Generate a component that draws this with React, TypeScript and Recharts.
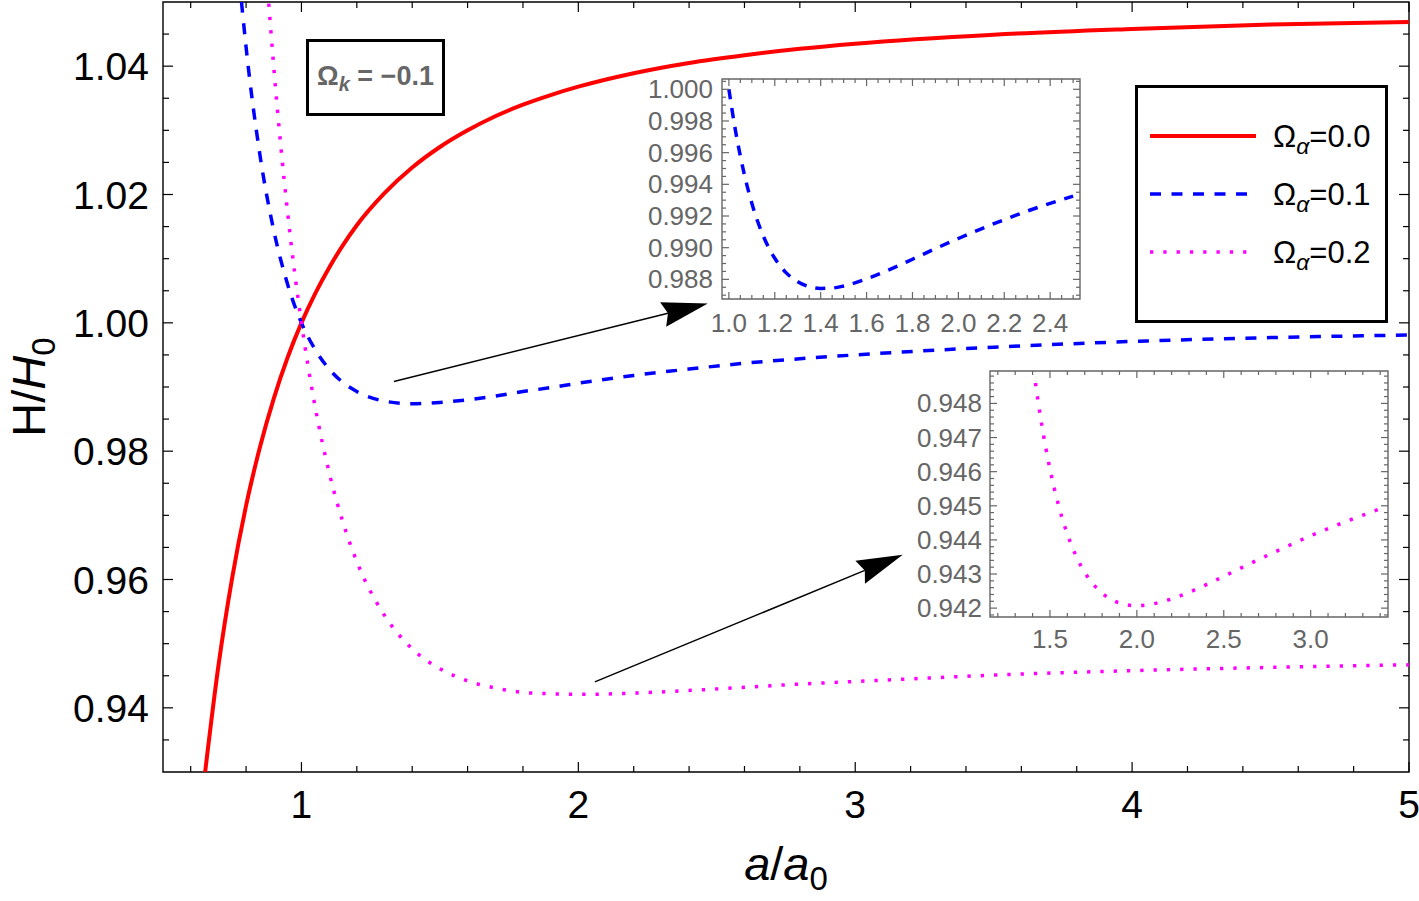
import React from "react";
import { LineChart, Line, XAxis, YAxis, ReferenceArea, ReferenceLine, Legend } from "recharts";

const FONT = "'Liberation Sans', Arial, Helvetica, sans-serif";

// main panel: a/a0 and H/H0 for the three Omega_alpha values (Omega_k = -0.1)
const A_MAIN = [0.65, 0.7, 0.75, 0.8, 0.85, 0.9, 0.95, 1.0, 1.05, 1.1, 1.15, 1.2, 1.3, 1.4, 1.5, 1.6, 1.7, 1.8, 1.9, 2.0, 2.2, 2.4, 2.6, 2.8, 3.0, 3.5, 4.0, 4.5, 5.0];
const H_ALPHA_00 = [0.9292, 0.9465, 0.9603, 0.9715, 0.9806, 0.9882, 0.9946, 1.0, 1.0046, 1.0086, 1.0121, 1.0152, 1.0202, 1.0242, 1.0274, 1.03, 1.0322, 1.034, 1.0355, 1.0368, 1.0389, 1.0405, 1.0417, 1.0427, 1.0435, 1.0449, 1.0458, 1.0465, 1.0469];
const H_ALPHA_01 = [1.1504, 1.1011, 1.0669, 1.043, 1.0262, 1.0144, 1.006, 1.0, 0.9958, 0.9928, 0.9907, 0.9893, 0.9878, 0.9874, 0.9876, 0.988, 0.9886, 0.9893, 0.9899, 0.9906, 0.9918, 0.9928, 0.9937, 0.9944, 0.995, 0.9962, 0.9971, 0.9977, 0.9981];
const H_ALPHA_02 = [1.3356, 1.2365, 1.1638, 1.11, 1.0699, 1.0399, 1.0172, 1.0, 0.9868, 0.9767, 0.9689, 0.9628, 0.9544, 0.9492, 0.9461, 0.9442, 0.9431, 0.9424, 0.9422, 0.9421, 0.9423, 0.9427, 0.9432, 0.9437, 0.9441, 0.9451, 0.9458, 0.9463, 0.9467];

// upper inset (Omega_alpha = 0.1)
const A_INSET_1 = [1.0, 1.025, 1.05, 1.075, 1.1, 1.15, 1.2, 1.25, 1.3, 1.35, 1.4, 1.45, 1.5, 1.6, 1.7, 1.8, 1.9, 2.0, 2.1, 2.2, 2.3, 2.4, 2.5];
const H_INSET_1 = [1.0, 0.9977, 0.99578, 0.99416, 0.9928, 0.99074, 0.98933, 0.98841, 0.98785, 0.98754, 0.98743, 0.98745, 0.98758, 0.98803, 0.98862, 0.98927, 0.98994, 0.99058, 0.99119, 0.99177, 0.99231, 0.9928, 0.99326];

// lower inset (Omega_alpha = 0.2)
const A_INSET_2 = [1.4165, 1.45, 1.5, 1.55, 1.6, 1.65, 1.7, 1.8, 1.9, 2.0, 2.2, 2.4, 2.6, 2.8, 3.0, 3.2, 3.4];
const H_INSET_2 = [0.9486, 0.94746, 0.94608, 0.945, 0.94417, 0.94353, 0.94305, 0.94244, 0.94215, 0.94207, 0.94227, 0.94269, 0.94318, 0.94366, 0.94412, 0.94453, 0.94491];

const MAIN_X_LABELS = [1, 2, 3, 4, 5];
const MAIN_Y_LABELS = [0.94, 0.96, 0.98, 1.0, 1.02, 1.04];
const INSET1_X_LABELS = [1.0, 1.2, 1.4, 1.6, 1.8, 2.0, 2.2, 2.4];
const INSET1_Y_LABELS = [0.988, 0.99, 0.992, 0.994, 0.996, 0.998, 1.0];
const INSET2_X_LABELS = [1.5, 2.0, 2.5, 3.0];
const INSET2_Y_LABELS = [0.942, 0.943, 0.944, 0.945, 0.946, 0.947, 0.948];

const LEGEND_VALUES = ["0.0", "0.1", "0.2"];
const OMEGA_K = "\u22120.1";

// arrows (start, tip) in data units
const ARROW_1 = [{ x: 1.334, y: 0.99086 }, { x: 2.4675, y: 1.00303 }];
const ARROW_2 = [{ x: 2.0596, y: 0.94404 }, { x: 3.1715, y: 0.96386 }];

const SERIES = [
  { key: "h0", values: H_ALPHA_00, color: "#ff0000", width: 4, dash: undefined as string | undefined },
  { key: "h1", values: H_ALPHA_01, color: "#0000ff", width: 3.5, dash: "11 10.5" },
  { key: "h2", values: H_ALPHA_02, color: "#ff00ff", width: 3.5, dash: "3.3 10" },
];

const mainData = A_MAIN.map((a, i) => ({ a, h0: H_ALPHA_00[i], h1: H_ALPHA_01[i], h2: H_ALPHA_02[i] }));
const inset1Data = A_INSET_1.map((a, i) => ({ a, h: H_INSET_1[i] }));
const inset2Data = A_INSET_2.map((a, i) => ({ a, h: H_INSET_2[i] }));

const steps = (from: number, to: number, step: number) => {
  const out: number[] = [];
  const n = Math.round((to - from) / step);
  for (let i = 0; i <= n; i++) out.push(+(from + i * step).toFixed(6));
  return out;
};
const isMajor = (v: number, list: number[]) => list.some((m) => Math.abs(m - v) < 1e-7);

// plot box of the main panel
const MAIN_TOP = 2;
const MAIN_RIGHT = 1409;

type TickOpts = {
  labels: number[];
  far: number; // opposite frame edge
  major: number;
  minor: number;
  color: string;
  fontSize: number;
  offset: number;
  fmt: (v: number) => string;
};

const makeXTick = (o: TickOpts) => (props: any) => {
  const { x, y, payload } = props;
  const v = payload.value;
  const big = isMajor(v, o.labels);
  const len = big ? o.major : o.minor;
  return (
    <g>
      <line x1={x} y1={y} x2={x} y2={y - len} stroke={o.color} strokeWidth={1.2} />
      <line x1={x} y1={o.far} x2={x} y2={o.far + len} stroke={o.color} strokeWidth={1.2} />
      {big && (
        <text x={x} y={y + o.offset} textAnchor="middle" fontSize={o.fontSize} fontFamily={FONT} fill={o.color}>
          {o.fmt(v)}
        </text>
      )}
    </g>
  );
};

const makeYTick = (o: TickOpts & { gap: number }) => (props: any) => {
  const { x, y, payload } = props;
  const v = payload.value;
  const big = isMajor(v, o.labels);
  const len = big ? o.major : o.minor;
  return (
    <g>
      <line x1={x} y1={y} x2={x + len} y2={y} stroke={o.color} strokeWidth={1.2} />
      <line x1={o.far} y1={y} x2={o.far - len} y2={y} stroke={o.color} strokeWidth={1.2} />
      {big && (
        <text x={x - o.gap} y={y + o.offset} textAnchor="end" fontSize={o.fontSize} fontFamily={FONT} fill={o.color}>
          {o.fmt(v)}
        </text>
      )}
    </g>
  );
};

const ArrowShape = (p: any) => {
  const { x1, y1, x2, y2 } = p;
  const dx = x2 - x1;
  const dy = y2 - y1;
  const len = Math.hypot(dx, dy) || 1;
  const ux = dx / len;
  const uy = dy / len;
  const nx = -uy;
  const ny = ux;
  const L = 46;
  const W = 12.5;
  const N = 41;
  const bx = x2 - ux * L;
  const by = y2 - uy * L;
  const pts = [
    [x2, y2],
    [bx + nx * W, by + ny * W],
    [x2 - ux * N, y2 - uy * N],
    [bx - nx * W, by - ny * W],
  ]
    .map((q) => q.join(","))
    .join(" ");
  return (
    <g>
      <line x1={x1} y1={y1} x2={x2 - ux * N} y2={y2 - uy * N} stroke="#000" strokeWidth={1.5} />
      <polygon points={pts} fill="#000" />
    </g>
  );
};

const LegendBox = () => {
  const rows = [51, 109, 167];
  return (
    <svg width={253} height={238} style={{ display: "block" }}>
      <rect x={1.5} y={1.5} width={250} height={235} fill="#fff" stroke="#000" strokeWidth={3} />
      {SERIES.map((s, i) => (
        <g key={s.key}>
          <line x1={15} x2={121} y1={rows[i]} y2={rows[i]} stroke={s.color} strokeWidth={s.width} strokeDasharray={s.dash} />
          <text x={138} y={rows[i] + 11} fontSize={31} fontFamily={FONT} fill="#000">
            {"\u03A9"}
            <tspan fontStyle="italic" fontSize={23} dy={7}>
              {"\u03B1"}
            </tspan>
            <tspan dy={-7}>{"=" + LEGEND_VALUES[i]}</tspan>
          </text>
        </g>
      ))}
    </svg>
  );
};

const renderXLabel = (p: any) => {
  const vb = p.viewBox || { x: 163, y: 772, width: 1246, height: 129 };
  return (
    <text x={vb.x + vb.width / 2} y={vb.y + 108} textAnchor="middle" fontSize={47} fontFamily={FONT} fill="#000">
      <tspan fontStyle="italic">a</tspan>
      <tspan>/</tspan>
      <tspan fontStyle="italic">a</tspan>
      <tspan fontSize={33} dy={10}>
        0
      </tspan>
    </text>
  );
};

const renderYLabel = (p: any) => {
  const vb = p.viewBox || { x: 0, y: 2, width: 163, height: 770 };
  const cx = 45;
  const cy = vb.y + vb.height / 2;
  return (
    <text x={cx} y={cy} transform={`rotate(-90, ${cx}, ${cy})`} textAnchor="middle" fontSize={47} fontFamily={FONT} fill="#000">
      <tspan>H/</tspan>
      <tspan fontStyle="italic">H</tspan>
      <tspan fontSize={33} dy={10}>
        0
      </tspan>
    </text>
  );
};

const MAIN_X_DOMAIN: [number, number] = [0.5, 5];
const MAIN_Y_DOMAIN: [number, number] = [0.93, 1.05];
const IN1_X_DOMAIN: [number, number] = [0.97, 2.53];
const IN1_Y_DOMAIN: [number, number] = [0.98676, 1.00065];
const IN2_X_DOMAIN: [number, number] = [1.155, 3.445];
const IN2_Y_DOMAIN: [number, number] = [0.94174, 0.94895];

const GRAY = "#666666";

export default function App() {
  return (
    <div style={{ position: "absolute", left: 0, top: 0, width: 1419, height: 901, background: "#fff" }}>
      <LineChart width={1419} height={901} data={mainData} margin={{ top: MAIN_TOP, right: 1419 - MAIN_RIGHT, bottom: 0, left: 0 }}>
        <XAxis
          type="number"
          dataKey="a"
          domain={MAIN_X_DOMAIN}
          allowDataOverflow
          ticks={steps(0.6, 5.0, 0.2)}
          interval={0}
          height={129}
          axisLine={false}
          tickLine={false}
          tickSize={0}
          tickMargin={0}
          tick={makeXTick({ labels: MAIN_X_LABELS, far: MAIN_TOP, major: 10, minor: 6, color: "#000", fontSize: 39, offset: 46, fmt: (v) => String(v) })}
          label={{ content: renderXLabel }}
        />
        <YAxis
          type="number"
          domain={MAIN_Y_DOMAIN}
          allowDataOverflow
          ticks={steps(0.935, 1.045, 0.005)}
          interval={0}
          width={163}
          axisLine={false}
          tickLine={false}
          tickSize={0}
          tickMargin={0}
          tick={makeYTick({ labels: MAIN_Y_LABELS, far: MAIN_RIGHT, major: 10, minor: 6, color: "#000", fontSize: 39, offset: 14, gap: 14, fmt: (v) => v.toFixed(2) })}
          label={{ content: renderYLabel }}
        />
        <ReferenceArea x1={MAIN_X_DOMAIN[0]} x2={MAIN_X_DOMAIN[1]} y1={MAIN_Y_DOMAIN[0]} y2={MAIN_Y_DOMAIN[1]} fill="none" fillOpacity={0} stroke="#000" strokeWidth={1.4} />
        {SERIES.map((s) => (
          <Line
            key={s.key}
            dataKey={s.key}
            type="monotone"
            stroke={s.color}
            strokeWidth={s.width}
            strokeDasharray={s.dash}
            dot={false}
            activeDot={false}
            isAnimationActive={false}
          />
        ))}
        <ReferenceLine segment={ARROW_1} shape={ArrowShape} />
        <ReferenceLine segment={ARROW_2} shape={ArrowShape} />
        <Legend
          layout="vertical"
          align="center"
          verticalAlign="middle"
          content={() => <LegendBox />}
          wrapperStyle={{ left: 1135, top: 85, width: 253, height: 238 }}
        />
      </LineChart>

      <div style={{ position: "absolute", left: 640, top: 70 }}>
        <LineChart width={450} height={280} data={inset1Data} margin={{ top: 9, right: 10, bottom: 0, left: 0 }}>
          <XAxis
            type="number"
            dataKey="a"
            domain={IN1_X_DOMAIN}
            allowDataOverflow
            ticks={steps(1.0, 2.5, 0.05)}
            interval={0}
            height={51}
            axisLine={false}
            tickLine={false}
            tickSize={0}
            tickMargin={0}
            tick={makeXTick({ labels: INSET1_X_LABELS, far: 9, major: 7, minor: 4, color: GRAY, fontSize: 26, offset: 33, fmt: (v) => v.toFixed(1) })}
          />
          <YAxis
            type="number"
            domain={IN1_Y_DOMAIN}
            allowDataOverflow
            ticks={steps(0.987, 1.0005, 0.0005)}
            interval={0}
            width={82}
            axisLine={false}
            tickLine={false}
            tickSize={0}
            tickMargin={0}
            tick={makeYTick({ labels: INSET1_Y_LABELS, far: 440, major: 7, minor: 4, color: GRAY, fontSize: 26, offset: 9, gap: 9, fmt: (v) => v.toFixed(3) })}
          />
          <ReferenceArea x1={IN1_X_DOMAIN[0]} x2={IN1_X_DOMAIN[1]} y1={IN1_Y_DOMAIN[0]} y2={IN1_Y_DOMAIN[1]} fill="none" fillOpacity={0} stroke={GRAY} strokeWidth={1.4} />
          <Line dataKey="h" type="monotone" stroke="#0000ff" strokeWidth={3.5} strokeDasharray="10 9" dot={false} activeDot={false} isAnimationActive={false} />
        </LineChart>
      </div>

      <div style={{ position: "absolute", left: 900, top: 362 }}>
        <LineChart width={500} height={300} data={inset2Data} margin={{ top: 9, right: 12, bottom: 0, left: 0 }}>
          <XAxis
            type="number"
            dataKey="a"
            domain={IN2_X_DOMAIN}
            allowDataOverflow
            ticks={steps(1.2, 3.4, 0.1)}
            interval={0}
            height={45}
            axisLine={false}
            tickLine={false}
            tickSize={0}
            tickMargin={0}
            tick={makeXTick({ labels: INSET2_X_LABELS, far: 9, major: 7, minor: 4, color: GRAY, fontSize: 26, offset: 31, fmt: (v) => v.toFixed(1) })}
          />
          <YAxis
            type="number"
            domain={IN2_Y_DOMAIN}
            allowDataOverflow
            ticks={steps(0.9418, 0.9488, 0.0002)}
            interval={0}
            width={90}
            axisLine={false}
            tickLine={false}
            tickSize={0}
            tickMargin={0}
            tick={makeYTick({ labels: INSET2_Y_LABELS, far: 488, major: 7, minor: 4, color: GRAY, fontSize: 26, offset: 9, gap: 8, fmt: (v) => v.toFixed(3) })}
          />
          <ReferenceArea x1={IN2_X_DOMAIN[0]} x2={IN2_X_DOMAIN[1]} y1={IN2_Y_DOMAIN[0]} y2={IN2_Y_DOMAIN[1]} fill="none" fillOpacity={0} stroke={GRAY} strokeWidth={1.4} />
          <Line dataKey="h" type="monotone" stroke="#ff00ff" strokeWidth={3.5} strokeDasharray="3.3 10" dot={false} activeDot={false} isAnimationActive={false} />
        </LineChart>
      </div>

      <svg width={139} height={77} style={{ position: "absolute", left: 306, top: 39 }}>
        <rect x={1.5} y={1.5} width={136} height={74} fill="#fff" stroke="#000" strokeWidth={3} />
        <text x={69.5} y={46} textAnchor="middle" fontSize={27} fontWeight="bold" fontFamily={FONT} fill={GRAY}>
          {"\u03A9"}
          <tspan fontStyle="italic" fontSize={20} dy={6}>
            k
          </tspan>
          <tspan dy={-6}>{" = " + OMEGA_K}</tspan>
        </text>
      </svg>
    </div>
  );
}
